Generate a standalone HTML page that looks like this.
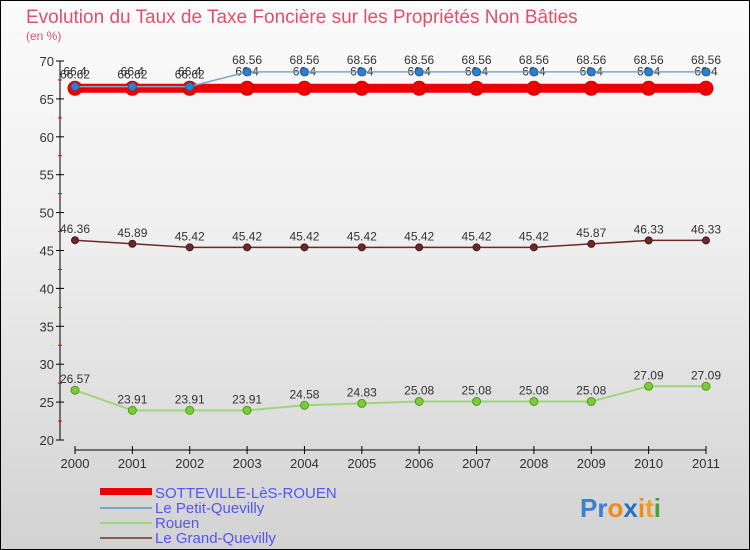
<!DOCTYPE html>
<html><head><meta charset="utf-8"><style>
body{margin:0}
#c{width:750px;height:550px;position:relative;overflow:hidden;background:linear-gradient(#fbfbfb,#f0f0f0 40%,#d2d2d2);font-family:"Liberation Sans",sans-serif}
</style></head><body>
<div id="c">
<svg width="750" height="550" id="s">
<rect x="0.5" y="0.5" width="749" height="549" fill="none" stroke="#000"/>
<text x="26" y="23" font-size="19" fill="#e0506a">Evolution du Taux de Taxe Foncière sur les Propriétés Non Bâties</text>
<text x="26" y="40" font-size="12" fill="#e0506a">(en %)</text>
<g id="axes"></g><g id="marks"></g>
<g>
<rect x="100" y="488" width="52" height="7" fill="#e00"/>
<text x="155" y="498" font-size="15" fill="#5555ee">SOTTEVILLE-LèS-ROUEN</text>
<line x1="100" y1="508" x2="152" y2="508" stroke="#7ba7cf" stroke-width="2"/>
<text x="155" y="513" font-size="15" fill="#5555ee">Le Petit-Quevilly</text>
<line x1="100" y1="523" x2="152" y2="523" stroke="#9ed67a" stroke-width="2"/>
<text x="155" y="528" font-size="15" fill="#5555ee">Rouen</text>
<line x1="100" y1="538" x2="152" y2="538" stroke="#8a5a5a" stroke-width="2"/>
<text x="155" y="543" font-size="15" fill="#5555ee">Le Grand-Quevilly</text>
</g>
<text x="580" y="517" font-size="26" font-weight="bold"><tspan fill="#3a7fd0">Pr</tspan><tspan fill="#f08a1c">o</tspan><tspan fill="#2a6fc0">x</tspan><tspan fill="#f08a1c">i</tspan><tspan fill="#f0a01c">t</tspan><tspan fill="#4aa03a">i</tspan></text>
</svg></div>
<script>
const years=[2000,2001,2002,2003,2004,2005,2006,2007,2008,2009,2010,2011];
const sotteville=[66.4,66.4,66.4,66.4,66.4,66.4,66.4,66.4,66.4,66.4,66.4,66.4];
const petitQuevilly=[66.62,66.62,66.62,68.56,68.56,68.56,68.56,68.56,68.56,68.56,68.56,68.56];
const rouen=[26.57,23.91,23.91,23.91,24.58,24.83,25.08,25.08,25.08,25.08,27.09,27.09];
const grandQuevilly=[46.36,45.89,45.42,45.42,45.42,45.42,45.42,45.42,45.42,45.87,46.33,46.33];
const yTicks=[20,25,30,35,40,45,50,55,60,65,70];
const NS="http://www.w3.org/2000/svg";
const xs=i=>75+i*(706-75)/(years.length-1);
const ys=v=>440-(v-20)*(440-61)/50;
function mk(t,a,p){const e=document.createElementNS(NS,t);for(const k in a)e.setAttribute(k,a[k]);p.appendChild(e);return e;}
const ax=document.getElementById('axes'),mg=document.getElementById('marks');
mk('line',{x1:60,y1:61,x2:60,y2:440,stroke:'#000'},ax);
yTicks.forEach(v=>{
 mk('line',{x1:56,y1:ys(v),x2:64,y2:ys(v),stroke:'#000'},ax);
 const t=mk('text',{x:54,y:ys(v)+5,'font-size':13,fill:'#333','text-anchor':'end'},ax);
 
 
 t.textContent=v;
 if(v<70)mk('line',{x1:58,y1:ys(v+2.5),x2:62,y2:ys(v+2.5),stroke:'#e00'},ax);
});
mk('line',{x1:75,y1:450,x2:706,y2:450,stroke:'#000'},ax);
years.forEach((y,i)=>{
 mk('line',{x1:xs(i),y1:446,x2:xs(i),y2:454,stroke:'#000'},ax);
 const t=mk('text',{x:xs(i),y:468,'font-size':13,fill:'#333','text-anchor':'middle'},ax);
 
 
 t.textContent=y;
});
function series(vals,name,col,w,r,dot,dotStroke,labelDy){
 const g=mk('g',{},mg);
 
 
 mk('polyline',{points:vals.map((v,i)=>xs(i)+','+ys(v)).join(' '),fill:'none',stroke:col,'stroke-width':w},g);
 vals.forEach((v,i)=>{
  const c=mk('circle',{cx:xs(i),cy:ys(v),r:r,fill:dot,stroke:dotStroke},g);
  
  
  const t=mk('text',{x:xs(i),y:ys(v)+labelDy,'font-size':12,fill:'#333','text-anchor':'middle'},g);
  
  
  t.textContent=v;
 });
}
series(sotteville,'sotteville','#e00',9,7,'#e00','#c00',-13);
series(petitQuevilly,'petit-quevilly','#7ba7cf',1.5,4,'#2f80c8','#1f5f9f',-8);
series(grandQuevilly,'grand-quevilly','#6b2a2a',1.5,3.5,'#6b2a2a','#4a1a1a',-7);
series(rouen,'rouen','#9ed67a',2,4,'#7ccc3a','#4a9a1a',-7);
</script>
</body></html>
